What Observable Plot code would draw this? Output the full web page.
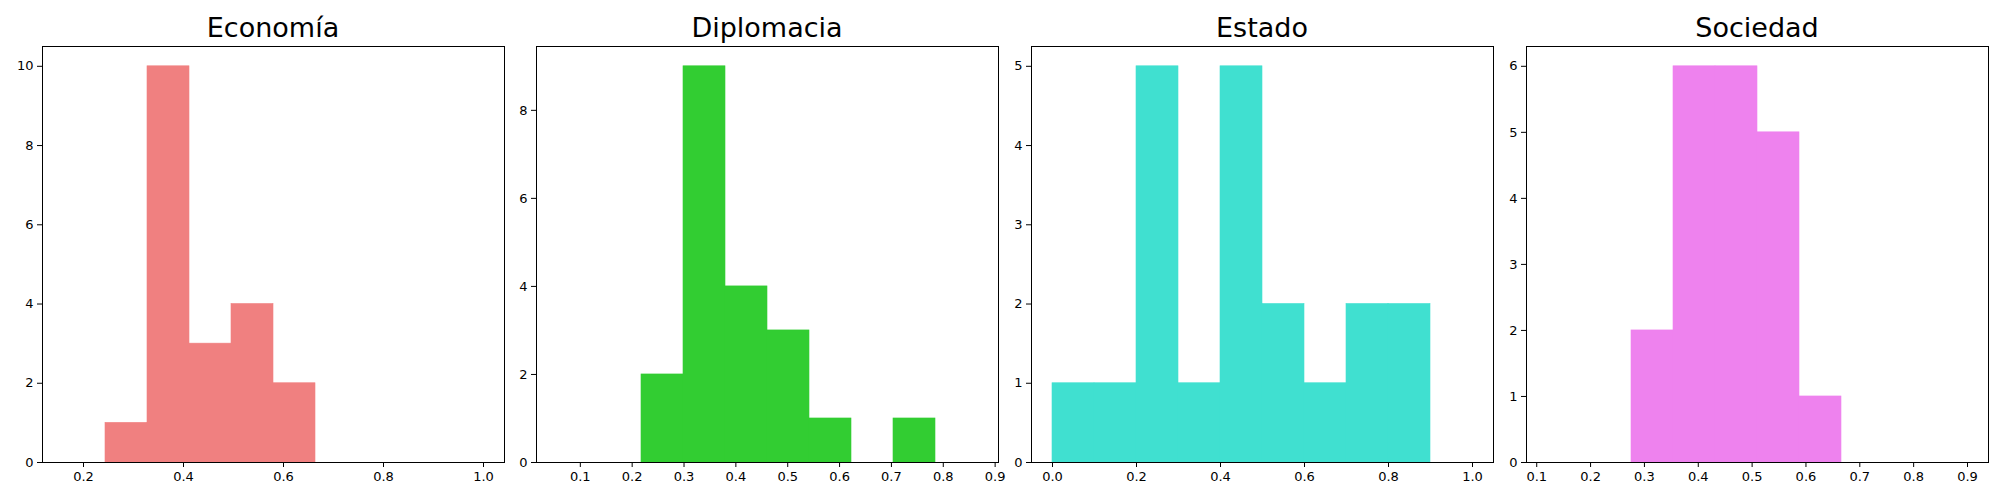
<!DOCTYPE html>
<html><head><meta charset="utf-8">
<script src="https://cdn.jsdelivr.net/npm/d3@7"></script>
<script src="https://cdn.jsdelivr.net/npm/@observablehq/plot@0.6"></script>
<style>body{margin:0;background:#fff;font-family:"DejaVu Sans",sans-serif}
#wrap{position:relative;width:2000px;height:500px}
.t{position:absolute;top:12px;font-size:27px;line-height:32px;text-align:center;color:#000}
.p{position:absolute;top:0}</style></head>
<body><div id="wrap"></div>
<script>
const titles = ["Economía","Diplomacia","Estado","Sociedad"];
const colors = ["#f08080","#32cd32","#40e0d0","#ee82ee"];
const binStarts = [0.16, 0.056, 0.0, 0.12];
const binWidths = [0.084, 0.081, 0.1, 0.078];
const countsEconomia = [0,1,10,3,4,2,0,0,0,0];
const countsDiplomacia = [0,0,2,9,4,3,1,0,1,0];
const countsEstado = [1,1,5,1,5,2,1,2,2,0];
const countsSociedad = [0,0,2,6,6,5,1,0,0,0];
const allCounts = [countsEconomia,countsDiplomacia,countsEstado,countsSociedad];
const xTicks = [[0.2,0.4,0.6,0.8,1.0],[0.1,0.2,0.3,0.4,0.5,0.6,0.7,0.8,0.9],[0,0.2,0.4,0.6,0.8,1.0],[0.1,0.2,0.3,0.4,0.5,0.6,0.7,0.8,0.9]];
const yTicks = [[0,2,4,6,8,10],[0,2,4,6,8],[0,1,2,3,4,5],[0,1,2,3,4,5,6]];
const panelLeft = [42,536,1031,1526];
const panelW = 462;
const ML = 50, MR = 12;
const wrap = document.getElementById("wrap");
allCounts.forEach((counts,i)=>{
  const s=binStarts[i], w=binWidths[i];
  const data = counts.map((c,k)=>({x1:s+k*w, x2:s+(k+1)*w, c}));
  const lo=s, hi=s+10*w, m=(hi-lo)*0.05;
  const ymax=d3.max(counts)*1.05;
  const svg = Plot.plot({
    width: panelW+ML+MR, height: 500,
    marginLeft: ML, marginRight: MR, marginTop: 46, marginBottom: 38,
    style:{fontFamily:"DejaVu Sans", fontSize:"13px", background:"transparent", color:"#000"},
    x:{domain:[lo-m,hi+m], ticks:xTicks[i], tickFormat:d=>d.toFixed(1), label:null, tickSize:5, tickPadding:4},
    y:{domain:[0,ymax], ticks:yTicks[i], tickFormat:d=>String(d), label:null, tickSize:5, tickPadding:4},
    marks:[
      Plot.rectY(data.filter(d=>d.c>0),{x1:"x1",x2:"x2",y:"c",fill:colors[i],stroke:colors[i],strokeWidth:0.6,inset:0}),
      Plot.frame({stroke:"#000"})
    ]
  });
  const d=document.createElement("div"); d.className="p"; d.style.left=(panelLeft[i]-ML)+"px"; d.appendChild(svg); wrap.appendChild(d);
  const t=document.createElement("div"); t.className="t"; t.style.left=panelLeft[i]+"px"; t.style.width=panelW+"px"; t.textContent=titles[i]; wrap.appendChild(t);
});
</script></body></html>
